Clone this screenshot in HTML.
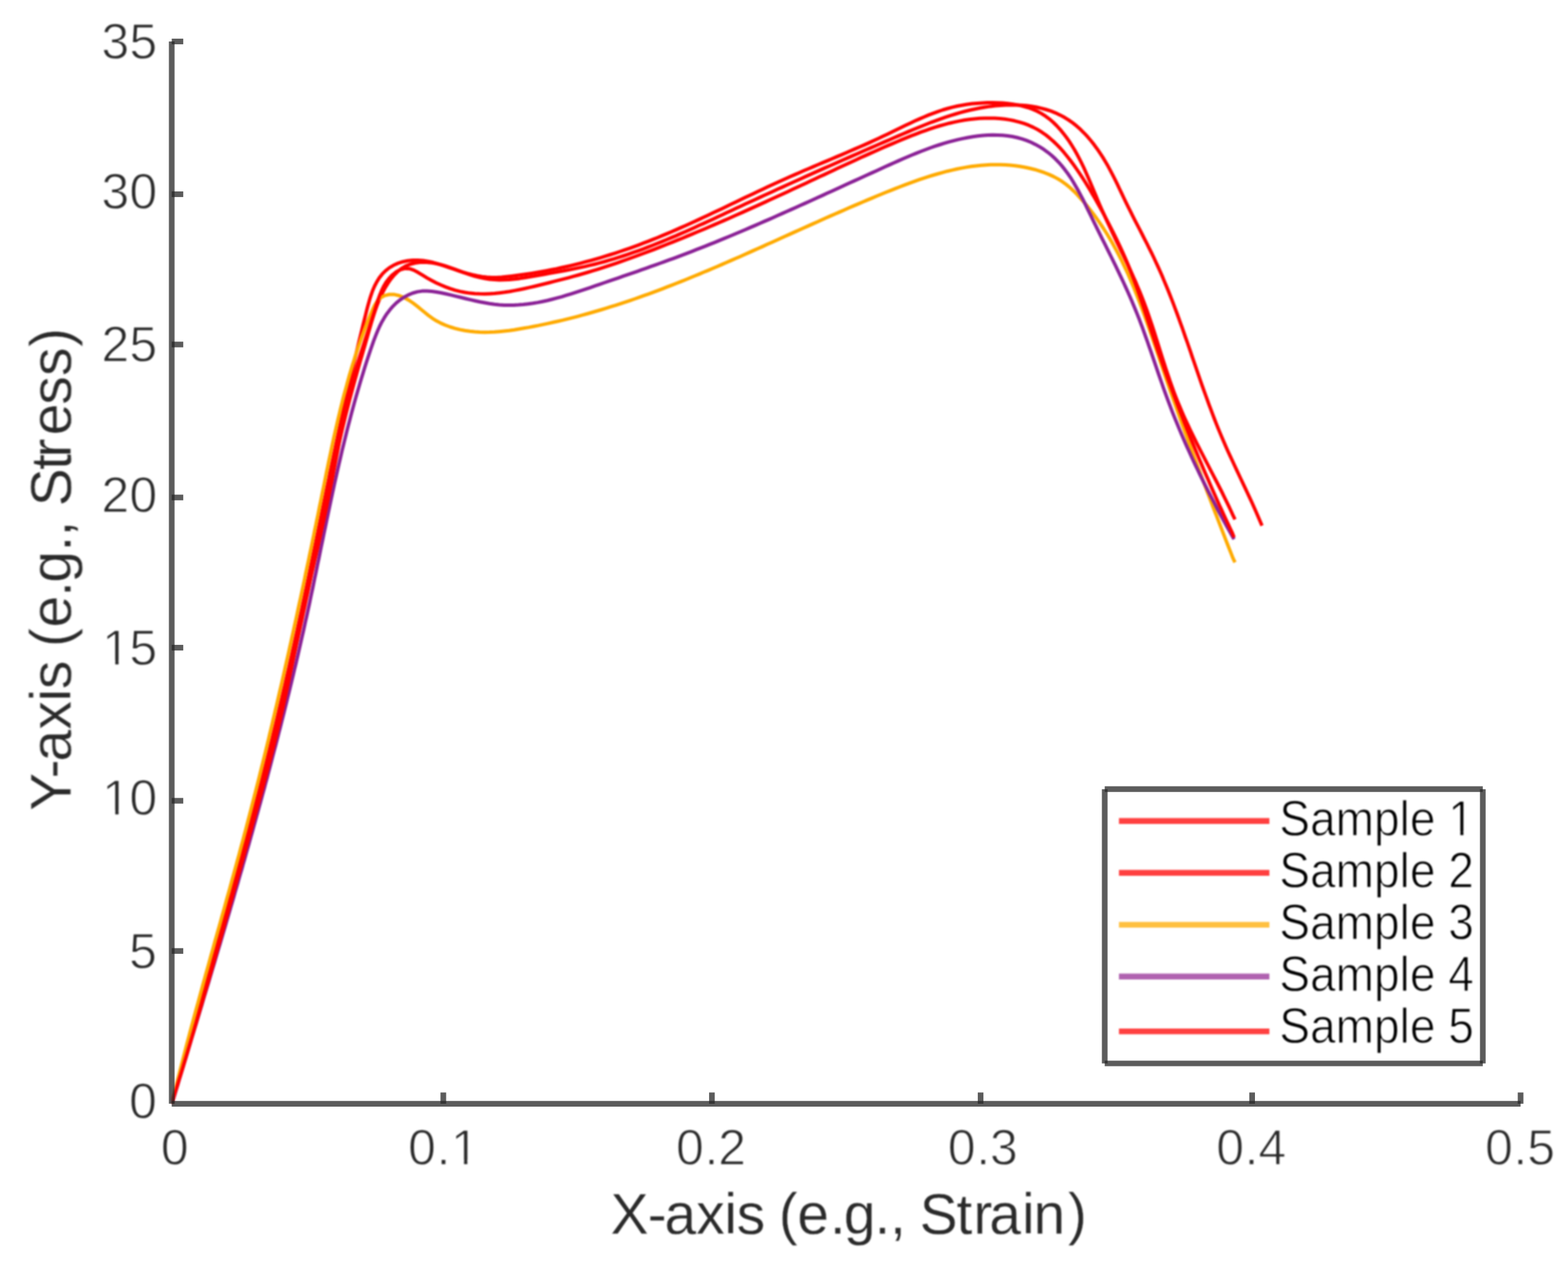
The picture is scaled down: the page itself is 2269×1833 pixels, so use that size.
<!DOCTYPE html>
<html lang="en"><head><meta charset="utf-8"><title>Stress-Strain Curves</title>
<style>
html,body{margin:0;padding:0;background:#fff;}
body{width:2269px;height:1833px;overflow:hidden;}
svg{display:block;}
.soft{filter:blur(0.9px);}
.soft2{filter:blur(0.45px);}
text{font-family:"Liberation Sans",sans-serif;}
text{stroke:#fff;stroke-width:1.4px;stroke-linejoin:round;}
.tk{font-size:72.4px;fill:#2a2a2a;}
.lb{font-size:82.5px;fill:#2a2a2a;stroke-width:0.4px;}
.lg{font-size:71.5px;fill:#000;}
</style></head><body>
<svg width="2269" height="1833" viewBox="0 0 2269 1833">
<rect width="2269" height="1833" fill="#fff"/>

<defs><clipPath id="plotclip"><rect x="248.5" y="60.0" width="1951.9" height="1536.8"/></clipPath></defs>
<g class="soft"><g fill="none" stroke-linejoin="round" stroke-linecap="butt" clip-path="url(#plotclip)">
<path d="M248.5,1596.8 L250.4,1589.8 L252.3,1582.7 L254.2,1575.7 L256.1,1568.6 L258.0,1561.5 L259.9,1554.5 L261.8,1547.4 L263.7,1540.4 L265.7,1533.3 L267.6,1526.3 L269.6,1519.2 L271.5,1512.2 L273.5,1505.2 L275.4,1498.1 L277.4,1491.1 L279.4,1484.1 L281.4,1477.1 L283.4,1470.1 L285.4,1463.1 L287.4,1456.1 L289.4,1449.1 L291.4,1442.1 L293.4,1435.0 L295.4,1428.0 L297.4,1421.0 L299.4,1414.1 L301.4,1407.1 L303.5,1400.1 L305.5,1393.1 L307.5,1386.1 L309.5,1379.1 L311.6,1372.1 L313.6,1365.1 L315.6,1358.1 L317.6,1351.1 L319.6,1344.1 L321.6,1337.1 L323.7,1330.1 L325.7,1323.1 L327.7,1316.1 L329.7,1309.1 L331.7,1302.1 L333.7,1295.1 L335.7,1288.1 L337.7,1281.1 L339.6,1274.1 L341.6,1267.1 L343.6,1260.1 L345.6,1253.0 L347.5,1246.0 L349.5,1239.0 L351.4,1232.0 L353.3,1224.9 L355.3,1217.9 L357.2,1210.9 L359.1,1203.8 L361.0,1196.8 L362.9,1189.7 L364.8,1182.7 L366.7,1175.6 L368.5,1168.5 L370.4,1161.5 L372.2,1154.4 L374.1,1147.3 L375.9,1140.2 L377.7,1133.1 L379.5,1126.1 L381.3,1119.0 L383.1,1111.9 L384.9,1104.8 L386.7,1097.7 L388.4,1090.6 L390.2,1083.5 L391.9,1076.4 L393.7,1069.3 L395.4,1062.2 L397.1,1055.0 L398.9,1047.9 L400.6,1040.8 L402.3,1033.7 L403.9,1026.6 L405.6,1019.5 L407.3,1012.3 L409.0,1005.2 L410.6,998.1 L412.3,991.0 L413.9,983.9 L415.5,976.7 L417.2,969.6 L418.8,962.5 L420.4,955.4 L422.0,948.3 L423.6,941.1 L425.2,934.0 L426.7,926.9 L428.3,919.8 L429.9,912.7 L431.4,905.5 L433.0,898.4 L434.5,891.3 L436.1,884.2 L437.6,877.1 L439.1,870.0 L440.6,862.9 L442.1,855.8 L443.6,848.7 L445.1,841.5 L446.6,834.4 L448.1,827.3 L449.5,820.2 L451.0,813.1 L452.5,806.0 L453.9,798.9 L455.4,791.8 L456.9,784.7 L458.3,777.6 L459.8,770.5 L461.2,763.4 L462.7,756.3 L464.2,749.2 L465.6,742.1 L467.1,735.0 L468.5,727.9 L470.0,720.8 L471.5,713.7 L472.9,706.6 L474.4,699.5 L475.9,692.4 L477.3,685.3 L478.8,678.2 L480.3,671.0 L481.8,663.9 L483.3,656.8 L484.8,649.7 L486.3,642.6 L487.8,635.4 L489.3,628.3 L490.8,621.2 L492.4,614.0 L493.9,606.9 L495.5,599.7 L497.0,592.6 L498.6,585.4 L500.2,578.3 L501.8,571.1 L503.4,564.0 L505.0,556.8 L506.6,549.6 L508.2,542.5 L509.9,535.3 L511.5,528.1 L513.2,520.9 L514.9,513.7 L516.6,506.5 L518.3,499.3 L520.0,492.1 L521.8,484.9 L523.5,477.7 L525.3,470.4 L527.1,463.2 L528.9,456.0 L530.7,448.7 L532.6,441.5 L534.6,434.3 L536.8,427.3 L539.2,420.5 L542.0,414.0 L545.2,407.8 L548.9,401.9 L553.1,396.6 L557.9,391.7 L563.4,387.4 L569.4,383.8 L575.9,380.9 L582.8,378.7 L589.9,377.3 L597.3,376.5 L604.7,376.5 L612.2,377.0 L619.6,378.2 L626.9,379.8 L634.1,381.9 L641.3,384.1 L648.4,386.6 L655.4,389.0 L662.5,391.4 L669.4,393.6 L676.4,395.6 L683.4,397.4 L690.4,399.0 L697.4,400.2 L704.4,401.0 L711.5,401.4 L718.7,401.4 L725.9,401.0 L733.1,400.3 L740.3,399.5 L747.5,398.6 L754.8,397.6 L762.0,396.6 L769.2,395.5 L776.4,394.3 L783.6,393.0 L790.7,391.7 L797.9,390.3 L805.1,388.9 L812.2,387.3 L819.4,385.7 L826.5,384.1 L833.6,382.4 L840.7,380.6 L847.8,378.7 L854.8,376.8 L861.9,374.8 L868.9,372.8 L875.9,370.7 L882.9,368.5 L889.9,366.3 L896.8,364.0 L903.7,361.7 L910.6,359.3 L917.5,356.8 L924.4,354.3 L931.2,351.7 L938.0,349.1 L944.8,346.4 L951.6,343.7 L958.3,340.9 L965.0,338.1 L971.8,335.3 L978.4,332.4 L985.1,329.4 L991.8,326.5 L998.4,323.5 L1005.0,320.4 L1011.7,317.4 L1018.3,314.3 L1024.9,311.2 L1031.5,308.1 L1038.0,305.0 L1044.6,301.9 L1051.2,298.7 L1057.8,295.6 L1064.3,292.4 L1070.9,289.3 L1077.5,286.1 L1084.1,283.0 L1090.6,279.9 L1097.2,276.8 L1103.8,273.7 L1110.4,270.6 L1117.0,267.5 L1123.6,264.5 L1130.2,261.5 L1136.9,258.5 L1143.5,255.5 L1150.2,252.6 L1156.9,249.7 L1163.5,246.8 L1170.2,244.0 L1176.9,241.1 L1183.6,238.3 L1190.4,235.4 L1197.1,232.6 L1203.8,229.8 L1210.5,226.9 L1217.2,224.1 L1223.9,221.2 L1230.6,218.3 L1237.3,215.4 L1244.0,212.5 L1250.7,209.6 L1257.4,206.6 L1264.1,203.5 L1270.7,200.5 L1277.4,197.3 L1284.0,194.2 L1290.6,191.0 L1297.2,187.7 L1303.9,184.5 L1310.5,181.3 L1317.1,178.2 L1323.8,175.1 L1330.4,172.1 L1337.1,169.2 L1343.8,166.4 L1350.6,163.8 L1357.4,161.3 L1364.3,159.0 L1371.2,157.0 L1378.2,155.1 L1385.2,153.5 L1392.3,152.2 L1399.4,151.0 L1406.6,150.1 L1413.9,149.4 L1421.2,148.9 L1428.5,148.6 L1435.9,148.5 L1443.3,148.7 L1450.8,149.1 L1458.2,149.8 L1465.6,150.7 L1472.9,151.9 L1480.1,153.5 L1487.1,155.5 L1494.0,157.9 L1500.5,160.8 L1506.8,164.1 L1512.8,167.9 L1518.6,172.2 L1524.0,176.9 L1529.1,181.9 L1534.0,187.2 L1538.6,192.8 L1543.0,198.5 L1547.2,204.4 L1551.1,210.5 L1554.9,216.7 L1558.4,223.0 L1561.8,229.4 L1565.1,235.9 L1568.3,242.5 L1571.3,249.2 L1574.3,255.9 L1577.2,262.7 L1580.1,269.5 L1582.9,276.3 L1585.8,283.1 L1588.6,289.9 L1591.5,296.7 L1594.5,303.4 L1597.5,310.1 L1600.5,316.8 L1603.6,323.4 L1606.7,330.0 L1609.8,336.6 L1612.9,343.2 L1616.1,349.8 L1619.3,356.3 L1622.4,362.9 L1625.6,369.4 L1628.7,376.0 L1631.8,382.5 L1634.8,389.1 L1637.9,395.7 L1640.8,402.3 L1643.8,408.9 L1646.6,415.6 L1649.4,422.3 L1652.1,429.0 L1654.8,435.8 L1657.3,442.6 L1659.8,449.4 L1662.2,456.3 L1664.6,463.2 L1666.9,470.1 L1669.2,477.1 L1671.4,484.1 L1673.6,491.0 L1675.8,498.0 L1678.0,505.0 L1680.2,512.0 L1682.4,519.0 L1684.7,526.0 L1686.9,532.9 L1689.2,539.9 L1691.6,546.8 L1693.9,553.7 L1696.4,560.6 L1698.9,567.5 L1701.5,574.3 L1704.2,581.1 L1707.0,587.8 L1709.8,594.5 L1712.7,601.2 L1715.7,607.8 L1718.8,614.4 L1721.9,621.0 L1725.1,627.6 L1728.3,634.1 L1731.5,640.6 L1734.8,647.1 L1738.1,653.6 L1741.5,660.1 L1744.8,666.6 L1748.2,673.1 L1751.5,679.6 L1754.9,686.1 L1758.2,692.5 L1761.6,699.0 L1764.9,705.5 L1768.2,712.0 L1771.4,718.6 L1774.6,725.1 L1777.8,731.7 L1780.9,738.3 L1783.9,744.9 L1787.1,751.5" stroke="#ff0000" stroke-width="5.0"/>
<path d="M248.5,1596.8 L250.4,1589.7 L252.5,1582.7 L254.5,1575.6 L256.6,1568.5 L258.6,1561.4 L260.7,1554.4 L262.8,1547.3 L264.8,1540.2 L266.9,1533.2 L268.9,1526.1 L271.0,1519.0 L273.0,1511.9 L275.1,1504.9 L277.1,1497.8 L279.2,1490.7 L281.2,1483.7 L283.3,1476.6 L285.4,1469.5 L287.4,1462.5 L289.5,1455.4 L291.5,1448.3 L293.6,1441.3 L295.6,1434.2 L297.7,1427.1 L299.7,1420.1 L301.7,1413.0 L303.8,1405.9 L305.8,1398.8 L307.9,1391.8 L309.9,1384.7 L311.9,1377.6 L314.0,1370.6 L316.0,1363.5 L318.0,1356.4 L320.0,1349.4 L322.1,1342.3 L324.1,1335.2 L326.1,1328.1 L328.1,1321.1 L330.1,1314.0 L332.1,1306.9 L334.1,1299.8 L336.1,1292.7 L338.1,1285.7 L340.1,1278.6 L342.1,1271.5 L344.0,1264.4 L346.0,1257.3 L348.0,1250.2 L349.9,1243.2 L351.9,1236.1 L353.8,1229.0 L355.8,1221.9 L357.7,1214.8 L359.7,1207.7 L361.6,1200.6 L363.5,1193.5 L365.4,1186.4 L367.4,1179.3 L369.3,1172.2 L371.2,1165.1 L373.1,1158.0 L375.0,1150.9 L376.8,1143.8 L378.7,1136.7 L380.6,1129.6 L382.4,1122.5 L384.3,1115.3 L386.1,1108.2 L388.0,1101.1 L389.8,1094.0 L391.6,1086.9 L393.5,1079.7 L395.3,1072.6 L397.1,1065.5 L398.8,1058.3 L400.6,1051.2 L402.4,1044.1 L404.2,1036.9 L405.9,1029.8 L407.7,1022.6 L409.4,1015.5 L411.2,1008.3 L412.9,1001.2 L414.6,994.0 L416.3,986.9 L418.0,979.7 L419.7,972.5 L421.3,965.4 L423.0,958.2 L424.6,951.0 L426.3,943.8 L427.9,936.7 L429.5,929.5 L431.2,922.3 L432.8,915.1 L434.3,907.9 L435.9,900.7 L437.5,893.5 L439.0,886.3 L440.6,879.1 L442.1,871.9 L443.6,864.7 L445.2,857.5 L446.7,850.2 L448.2,843.0 L449.6,835.8 L451.1,828.6 L452.6,821.4 L454.1,814.1 L455.6,806.9 L457.0,799.7 L458.5,792.4 L460.0,785.2 L461.4,778.0 L462.9,770.8 L464.4,763.5 L465.8,756.3 L467.3,749.1 L468.8,741.9 L470.3,734.7 L471.8,727.5 L473.3,720.3 L474.8,713.0 L476.3,705.8 L477.8,698.6 L479.4,691.5 L480.9,684.3 L482.5,677.1 L484.1,669.9 L485.6,662.7 L487.3,655.6 L488.9,648.4 L490.5,641.3 L492.2,634.1 L493.9,627.0 L495.6,619.8 L497.3,612.7 L499.0,605.6 L500.8,598.5 L502.6,591.4 L504.4,584.3 L506.2,577.2 L508.1,570.2 L510.0,563.1 L511.9,556.0 L513.8,549.0 L515.8,542.0 L517.8,534.9 L519.8,527.9 L521.8,520.9 L523.9,513.8 L525.9,506.7 L528.0,499.7 L530.0,492.6 L532.1,485.4 L534.1,478.3 L536.2,471.1 L538.3,463.9 L540.5,456.8 L542.8,449.7 L545.3,442.7 L548.0,435.7 L550.9,428.9 L554.1,422.3 L557.6,415.8 L561.5,409.6 L565.7,403.6 L570.4,397.9 L575.5,392.9 L581.1,388.4 L587.1,384.9 L593.6,382.2 L600.5,380.5 L607.6,379.5 L614.9,379.3 L622.3,379.9 L629.7,381.0 L637.0,382.6 L644.2,384.7 L651.4,387.1 L658.5,389.7 L665.6,392.4 L672.7,395.0 L679.8,397.4 L686.9,399.6 L694.0,401.4 L701.1,402.9 L708.3,404.0 L715.5,404.6 L722.7,404.9 L729.9,404.8 L737.2,404.4 L744.5,403.7 L751.8,402.9 L759.1,401.8 L766.4,400.6 L773.7,399.4 L781.0,398.1 L788.3,396.8 L795.6,395.4 L802.9,394.1 L810.2,392.8 L817.4,391.5 L824.7,390.1 L831.9,388.6 L839.1,387.1 L846.3,385.6 L853.4,383.9 L860.6,382.2 L867.7,380.4 L874.7,378.5 L881.8,376.4 L888.8,374.4 L895.8,372.2 L902.7,370.0 L909.7,367.6 L916.6,365.2 L923.5,362.8 L930.4,360.3 L937.2,357.7 L944.1,355.0 L950.9,352.3 L957.7,349.6 L964.5,346.8 L971.3,343.9 L978.1,341.1 L984.8,338.1 L991.6,335.2 L998.3,332.2 L1005.0,329.2 L1011.7,326.1 L1018.5,323.1 L1025.2,320.0 L1031.9,316.9 L1038.6,313.8 L1045.2,310.7 L1051.9,307.6 L1058.6,304.5 L1065.3,301.3 L1072.0,298.2 L1078.7,295.1 L1085.4,292.0 L1092.1,288.9 L1098.8,285.9 L1105.5,282.8 L1112.2,279.7 L1118.9,276.7 L1125.6,273.6 L1132.3,270.6 L1139.0,267.5 L1145.7,264.5 L1152.4,261.5 L1159.1,258.4 L1165.8,255.4 L1172.6,252.4 L1179.3,249.4 L1186.0,246.4 L1192.7,243.4 L1199.4,240.5 L1206.2,237.5 L1212.9,234.5 L1219.6,231.5 L1226.3,228.6 L1233.1,225.6 L1239.8,222.7 L1246.5,219.7 L1253.3,216.8 L1260.0,213.9 L1266.7,211.0 L1273.5,208.0 L1280.2,205.1 L1287.0,202.2 L1293.7,199.3 L1300.4,196.4 L1307.2,193.5 L1313.9,190.6 L1320.7,187.8 L1327.5,185.0 L1334.3,182.2 L1341.1,179.5 L1347.9,176.8 L1354.8,174.3 L1361.6,171.8 L1368.6,169.4 L1375.5,167.1 L1382.5,165.0 L1389.6,162.9 L1396.6,161.0 L1403.8,159.3 L1411.0,157.7 L1418.2,156.3 L1425.5,155.0 L1432.9,153.9 L1440.3,153.1 L1447.8,152.4 L1455.3,152.0 L1462.8,151.8 L1470.3,151.9 L1477.7,152.2 L1485.1,152.8 L1492.4,153.8 L1499.7,155.0 L1506.8,156.6 L1513.8,158.5 L1520.7,160.7 L1527.4,163.3 L1533.9,166.4 L1540.3,169.8 L1546.4,173.6 L1552.3,177.8 L1558.0,182.3 L1563.5,187.2 L1568.7,192.4 L1573.8,197.8 L1578.6,203.5 L1583.3,209.4 L1587.7,215.4 L1591.9,221.6 L1596.0,227.9 L1599.8,234.2 L1603.5,240.6 L1607.0,247.1 L1610.4,253.6 L1613.7,260.1 L1616.9,266.7 L1620.0,273.3 L1623.2,279.9 L1626.3,286.5 L1629.5,293.1 L1632.7,299.6 L1636.0,306.2 L1639.3,312.8 L1642.6,319.3 L1646.0,325.9 L1649.4,332.4 L1652.8,339.0 L1656.1,345.6 L1659.5,352.2 L1662.8,358.8 L1666.1,365.4 L1669.3,372.0 L1672.4,378.7 L1675.5,385.4 L1678.5,392.1 L1681.5,398.8 L1684.3,405.6 L1687.2,412.4 L1690.0,419.2 L1692.7,426.0 L1695.4,432.8 L1698.0,439.7 L1700.6,446.6 L1703.2,453.5 L1705.7,460.4 L1708.2,467.3 L1710.7,474.2 L1713.1,481.1 L1715.5,488.1 L1718.0,495.0 L1720.4,502.0 L1722.8,508.9 L1725.1,515.9 L1727.5,522.8 L1729.9,529.8 L1732.3,536.8 L1734.7,543.7 L1737.1,550.7 L1739.5,557.6 L1742.0,564.6 L1744.5,571.5 L1747.0,578.4 L1749.5,585.3 L1752.1,592.2 L1754.7,599.1 L1757.3,606.0 L1760.0,612.8 L1762.7,619.6 L1765.5,626.4 L1768.4,633.2 L1771.3,640.0 L1774.2,646.7 L1777.2,653.4 L1780.3,660.1 L1783.4,666.8 L1786.5,673.5 L1789.6,680.1 L1792.7,686.8 L1795.9,693.5 L1799.0,700.1 L1802.2,706.8 L1805.3,713.5 L1808.4,720.1 L1811.5,726.8 L1814.5,733.5 L1817.5,740.2 L1820.4,747.0 L1823.3,753.7 L1826.2,760.5" stroke="#ff0000" stroke-width="5.0"/>
<path d="M248.5,1596.8 L250.3,1589.8 L252.0,1582.9 L253.7,1575.9 L255.5,1568.9 L257.2,1561.9 L259.0,1555.0 L260.7,1548.0 L262.5,1541.0 L264.3,1534.1 L266.1,1527.1 L267.9,1520.2 L269.7,1513.2 L271.5,1506.3 L273.4,1499.3 L275.2,1492.4 L277.1,1485.4 L279.0,1478.5 L280.8,1471.6 L282.7,1464.6 L284.6,1457.7 L286.5,1450.8 L288.4,1443.8 L290.3,1436.9 L292.2,1430.0 L294.1,1423.0 L296.0,1416.1 L297.9,1409.2 L299.9,1402.3 L301.8,1395.3 L303.7,1388.4 L305.6,1381.5 L307.6,1374.6 L309.5,1367.7 L311.4,1360.7 L313.4,1353.8 L315.3,1346.9 L317.3,1340.0 L319.2,1333.1 L321.1,1326.1 L323.1,1319.2 L325.0,1312.3 L326.9,1305.4 L328.8,1298.4 L330.8,1291.5 L332.7,1284.6 L334.6,1277.7 L336.5,1270.7 L338.4,1263.8 L340.3,1256.9 L342.2,1249.9 L344.1,1243.0 L346.0,1236.1 L347.8,1229.1 L349.7,1222.2 L351.6,1215.3 L353.4,1208.3 L355.3,1201.4 L357.1,1194.4 L358.9,1187.5 L360.7,1180.5 L362.5,1173.6 L364.3,1166.6 L366.1,1159.7 L367.9,1152.7 L369.7,1145.7 L371.4,1138.8 L373.2,1131.8 L375.0,1124.8 L376.7,1117.9 L378.4,1110.9 L380.2,1103.9 L381.9,1096.9 L383.6,1090.0 L385.3,1083.0 L387.0,1076.0 L388.7,1069.0 L390.3,1062.0 L392.0,1055.0 L393.7,1048.1 L395.3,1041.1 L397.0,1034.1 L398.6,1027.1 L400.3,1020.1 L401.9,1013.1 L403.5,1006.1 L405.1,999.1 L406.8,992.1 L408.4,985.1 L410.0,978.1 L411.6,971.1 L413.1,964.1 L414.7,957.0 L416.3,950.0 L417.9,943.0 L419.4,936.0 L421.0,929.0 L422.5,922.0 L424.1,915.0 L425.6,907.9 L427.2,900.9 L428.7,893.9 L430.2,886.9 L431.7,879.8 L433.2,872.8 L434.8,865.8 L436.3,858.8 L437.8,851.7 L439.3,844.7 L440.8,837.7 L442.2,830.6 L443.7,823.6 L445.2,816.6 L446.7,809.5 L448.1,802.5 L449.6,795.5 L451.1,788.4 L452.5,781.4 L454.0,774.4 L455.4,767.3 L456.9,760.3 L458.3,753.2 L459.8,746.2 L461.2,739.2 L462.6,732.1 L464.1,725.1 L465.5,718.0 L466.9,711.0 L468.4,703.9 L469.8,696.9 L471.2,689.9 L472.6,682.8 L474.1,675.8 L475.5,668.7 L477.0,661.7 L478.5,654.7 L480.0,647.6 L481.5,640.6 L483.0,633.6 L484.6,626.6 L486.2,619.6 L487.8,612.6 L489.4,605.6 L491.1,598.6 L492.7,591.6 L494.5,584.7 L496.2,577.7 L498.0,570.7 L499.9,563.8 L501.8,556.9 L503.7,549.9 L505.6,543.0 L507.7,536.1 L509.7,529.3 L511.9,522.4 L514.0,515.5 L516.3,508.7 L518.5,501.8 L520.9,495.0 L523.3,488.2 L525.8,481.4 L528.3,474.7 L530.9,467.9 L533.6,461.2 L536.4,454.4 L539.2,447.8 L542.3,441.3 L546.0,435.6 L550.7,430.9 L556.5,427.6 L563.4,426.0 L570.7,426.1 L577.8,427.7 L584.8,430.5 L591.5,434.2 L597.8,438.5 L603.7,443.0 L609.3,447.6 L614.8,452.1 L620.2,456.5 L625.8,460.6 L631.8,464.3 L638.1,467.6 L644.7,470.5 L651.5,473.0 L658.5,475.1 L665.6,476.9 L672.8,478.3 L679.9,479.3 L687.0,480.1 L694.2,480.5 L701.3,480.7 L708.4,480.6 L715.5,480.3 L722.6,479.7 L729.7,479.0 L736.8,478.2 L743.9,477.2 L751.0,476.0 L758.1,474.8 L765.1,473.6 L772.2,472.2 L779.3,470.9 L786.4,469.4 L793.5,467.9 L800.5,466.3 L807.6,464.7 L814.6,463.1 L821.6,461.3 L828.7,459.6 L835.7,457.8 L842.7,455.9 L849.6,454.0 L856.6,452.0 L863.5,450.0 L870.4,448.0 L877.3,445.9 L884.2,443.7 L891.0,441.6 L897.9,439.3 L904.7,437.1 L911.5,434.8 L918.3,432.5 L925.0,430.1 L931.8,427.7 L938.5,425.3 L945.2,422.8 L951.9,420.3 L958.6,417.8 L965.3,415.2 L972.0,412.6 L978.6,410.0 L985.3,407.4 L991.9,404.7 L998.5,402.0 L1005.1,399.3 L1011.7,396.6 L1018.3,393.8 L1024.9,391.1 L1031.5,388.3 L1038.1,385.5 L1044.6,382.6 L1051.2,379.8 L1057.8,376.9 L1064.3,374.0 L1070.9,371.2 L1077.4,368.3 L1083.9,365.4 L1090.5,362.4 L1097.0,359.5 L1103.6,356.6 L1110.1,353.6 L1116.6,350.7 L1123.2,347.7 L1129.7,344.8 L1136.3,341.8 L1142.8,338.9 L1149.4,335.9 L1155.9,333.0 L1162.5,330.0 L1169.0,327.1 L1175.6,324.1 L1182.2,321.2 L1188.7,318.2 L1195.3,315.3 L1201.9,312.4 L1208.5,309.5 L1215.2,306.6 L1221.8,303.7 L1228.4,300.8 L1235.1,297.9 L1241.7,295.1 L1248.4,292.2 L1255.1,289.4 L1261.8,286.6 L1268.5,283.8 L1275.2,281.0 L1281.9,278.3 L1288.7,275.6 L1295.5,272.9 L1302.2,270.2 L1309.0,267.6 L1315.8,265.1 L1322.7,262.6 L1329.5,260.2 L1336.4,257.9 L1343.2,255.7 L1350.1,253.5 L1357.0,251.5 L1363.9,249.6 L1370.8,247.7 L1377.8,246.1 L1384.7,244.5 L1391.7,243.1 L1398.6,241.9 L1405.6,240.8 L1412.6,239.9 L1419.6,239.2 L1426.6,238.7 L1433.6,238.3 L1440.7,238.2 L1447.7,238.2 L1454.8,238.5 L1461.8,239.0 L1468.9,239.7 L1476.0,240.7 L1483.0,242.0 L1490.1,243.5 L1497.2,245.2 L1504.2,247.3 L1511.1,249.7 L1517.9,252.4 L1524.5,255.4 L1531.0,258.9 L1537.1,262.7 L1543.0,267.0 L1548.6,271.6 L1553.9,276.6 L1559.0,281.8 L1563.9,287.2 L1568.7,292.7 L1573.3,298.2 L1577.8,303.8 L1582.2,309.5 L1586.4,315.3 L1590.5,321.1 L1594.5,327.0 L1598.4,333.0 L1602.2,339.0 L1605.9,345.1 L1609.5,351.3 L1612.9,357.5 L1616.3,363.8 L1619.6,370.1 L1622.8,376.4 L1625.9,382.8 L1629.0,389.3 L1632.0,395.8 L1634.9,402.4 L1637.7,408.9 L1640.5,415.5 L1643.2,422.2 L1645.8,428.9 L1648.4,435.6 L1651.0,442.3 L1653.5,449.1 L1656.0,455.8 L1658.4,462.6 L1660.8,469.4 L1663.2,476.2 L1665.6,483.1 L1667.9,489.9 L1670.2,496.8 L1672.6,503.6 L1674.9,510.5 L1677.2,517.3 L1679.5,524.2 L1681.8,531.0 L1684.1,537.8 L1686.4,544.7 L1688.7,551.5 L1691.1,558.3 L1693.4,565.1 L1695.8,571.9 L1698.2,578.7 L1700.6,585.4 L1703.0,592.2 L1705.4,599.0 L1707.8,605.7 L1710.2,612.5 L1712.7,619.2 L1715.1,625.9 L1717.6,632.7 L1720.0,639.4 L1722.5,646.1 L1725.0,652.9 L1727.5,659.6 L1730.0,666.3 L1732.5,673.0 L1735.0,679.7 L1737.5,686.4 L1740.0,693.1 L1742.6,699.8 L1745.1,706.5 L1747.6,713.2 L1750.2,719.9 L1752.8,726.6 L1755.3,733.3 L1757.9,740.0 L1760.5,746.7 L1763.1,753.4 L1765.7,760.1 L1768.3,766.8 L1770.9,773.6 L1773.5,780.3 L1776.1,787.0 L1778.7,793.7 L1781.4,800.4 L1784.0,807.2 L1787.1,813.6" stroke="#ffaa00" stroke-width="5.0"/>
<path d="M248.5,1596.8 L250.9,1590.0 L253.0,1583.2 L255.0,1576.4 L257.1,1569.7 L259.1,1562.9 L261.2,1556.1 L263.2,1549.4 L265.3,1542.6 L267.3,1535.8 L269.4,1529.1 L271.4,1522.3 L273.4,1515.5 L275.5,1508.7 L277.5,1501.9 L279.6,1495.1 L281.6,1488.4 L283.7,1481.6 L285.7,1474.8 L287.8,1468.0 L289.8,1461.2 L291.9,1454.4 L293.9,1447.6 L295.9,1440.8 L298.0,1434.0 L300.0,1427.2 L302.1,1420.4 L304.1,1413.6 L306.1,1406.8 L308.1,1400.0 L310.2,1393.2 L312.2,1386.4 L314.2,1379.6 L316.2,1372.8 L318.3,1366.0 L320.3,1359.1 L322.3,1352.3 L324.3,1345.5 L326.3,1338.7 L328.3,1331.9 L330.3,1325.0 L332.3,1318.2 L334.3,1311.4 L336.3,1304.6 L338.3,1297.7 L340.2,1290.9 L342.2,1284.1 L344.2,1277.2 L346.1,1270.4 L348.1,1263.6 L350.1,1256.7 L352.0,1249.9 L354.0,1243.1 L355.9,1236.2 L357.8,1229.4 L359.8,1222.5 L361.7,1215.7 L363.6,1208.8 L365.5,1202.0 L367.4,1195.1 L369.3,1188.3 L371.2,1181.4 L373.1,1174.6 L375.0,1167.7 L376.9,1160.9 L378.7,1154.0 L380.6,1147.2 L382.5,1140.3 L384.3,1133.4 L386.2,1126.6 L388.0,1119.7 L389.8,1112.8 L391.6,1106.0 L393.4,1099.1 L395.2,1092.2 L397.0,1085.4 L398.8,1078.5 L400.6,1071.6 L402.4,1064.7 L404.1,1057.9 L405.9,1051.0 L407.6,1044.1 L409.4,1037.2 L411.1,1030.3 L412.8,1023.4 L414.5,1016.6 L416.2,1009.7 L417.9,1002.8 L419.6,995.9 L421.3,989.0 L422.9,982.1 L424.6,975.2 L426.2,968.3 L427.9,961.4 L429.5,954.5 L431.1,947.6 L432.7,940.7 L434.3,933.8 L435.8,926.9 L437.4,920.0 L439.0,913.1 L440.5,906.2 L442.0,899.3 L443.6,892.4 L445.1,885.5 L446.6,878.6 L448.1,871.7 L449.5,864.8 L451.0,857.8 L452.5,850.9 L453.9,844.0 L455.3,837.1 L456.8,830.2 L458.2,823.3 L459.6,816.3 L461.1,809.4 L462.5,802.5 L463.9,795.6 L465.3,788.7 L466.8,781.7 L468.2,774.8 L469.6,767.9 L471.1,761.0 L472.5,754.1 L474.0,747.1 L475.4,740.2 L476.9,733.3 L478.3,726.4 L479.8,719.5 L481.3,712.5 L482.8,705.6 L484.3,698.7 L485.9,691.8 L487.4,684.9 L489.0,677.9 L490.6,671.0 L492.2,664.1 L493.8,657.2 L495.4,650.3 L497.1,643.4 L498.8,636.5 L500.5,629.6 L502.2,622.7 L504.0,615.7 L505.8,608.8 L507.6,601.9 L509.4,595.0 L511.3,588.1 L513.2,581.2 L515.1,574.3 L517.1,567.5 L519.1,560.6 L521.1,553.7 L523.2,546.8 L525.3,539.9 L527.4,533.0 L529.6,526.1 L531.8,519.3 L534.1,512.4 L536.4,505.5 L538.8,498.7 L541.2,491.8 L543.8,485.1 L546.5,478.5 L549.4,472.0 L552.6,465.7 L556.1,459.7 L559.8,453.9 L564.0,448.4 L568.5,443.2 L573.5,438.3 L578.9,433.9 L584.7,430.0 L590.9,426.6 L597.3,424.0 L604.0,422.1 L610.8,421.1 L617.7,421.0 L624.7,421.5 L631.7,422.5 L638.8,423.8 L645.8,425.3 L652.8,426.9 L659.8,428.6 L666.8,430.3 L673.8,432.0 L680.7,433.6 L687.7,435.2 L694.7,436.7 L701.6,438.0 L708.5,439.2 L715.5,440.2 L722.4,440.9 L729.4,441.4 L736.4,441.5 L743.3,441.5 L750.3,441.1 L757.2,440.5 L764.2,439.7 L771.2,438.8 L778.1,437.6 L785.1,436.2 L792.0,434.7 L798.9,433.0 L805.9,431.2 L812.8,429.3 L819.7,427.2 L826.6,425.1 L833.5,422.9 L840.4,420.7 L847.2,418.4 L854.1,416.1 L860.9,413.7 L867.7,411.4 L874.5,409.0 L881.3,406.7 L888.0,404.4 L894.8,402.1 L901.5,399.7 L908.2,397.4 L914.9,395.1 L921.6,392.8 L928.2,390.4 L934.9,388.1 L941.5,385.7 L948.2,383.4 L954.8,381.0 L961.4,378.6 L968.0,376.2 L974.6,373.8 L981.2,371.3 L987.8,368.8 L994.4,366.3 L1001.0,363.8 L1007.6,361.2 L1014.2,358.7 L1020.7,356.1 L1027.3,353.4 L1033.9,350.8 L1040.4,348.1 L1047.0,345.4 L1053.5,342.7 L1060.1,340.0 L1066.6,337.3 L1073.2,334.5 L1079.7,331.7 L1086.2,328.9 L1092.8,326.1 L1099.3,323.3 L1105.8,320.4 L1112.4,317.6 L1118.9,314.7 L1125.4,311.8 L1131.9,308.9 L1138.4,306.0 L1144.9,303.1 L1151.4,300.2 L1157.9,297.3 L1164.4,294.4 L1170.9,291.4 L1177.4,288.5 L1183.9,285.5 L1190.4,282.6 L1196.9,279.6 L1203.3,276.7 L1209.8,273.7 L1216.3,270.8 L1222.7,267.8 L1229.2,264.8 L1235.7,261.9 L1242.1,258.9 L1248.6,256.0 L1255.1,253.0 L1261.5,250.1 L1268.0,247.2 L1274.4,244.2 L1280.8,241.3 L1287.3,238.4 L1293.7,235.5 L1300.2,232.6 L1306.6,229.8 L1313.1,227.0 L1319.6,224.3 L1326.1,221.6 L1332.7,219.0 L1339.3,216.5 L1345.9,214.0 L1352.6,211.7 L1359.3,209.5 L1366.0,207.4 L1372.8,205.4 L1379.7,203.6 L1386.6,201.9 L1393.6,200.4 L1400.7,199.0 L1407.8,197.8 L1414.9,196.8 L1422.1,196.1 L1429.3,195.6 L1436.5,195.3 L1443.6,195.4 L1450.8,195.8 L1457.8,196.5 L1464.8,197.5 L1471.7,199.0 L1478.6,200.8 L1485.3,203.1 L1491.8,205.8 L1498.2,208.9 L1504.5,212.4 L1510.5,216.2 L1516.3,220.4 L1521.8,224.9 L1527.0,229.7 L1531.9,234.7 L1536.5,239.9 L1540.9,245.4 L1545.1,251.0 L1549.1,256.8 L1552.8,262.8 L1556.4,268.9 L1559.9,275.1 L1563.3,281.4 L1566.6,287.7 L1569.8,294.2 L1572.9,300.6 L1576.1,307.1 L1579.2,313.5 L1582.3,320.0 L1585.5,326.4 L1588.7,332.8 L1591.8,339.2 L1595.0,345.6 L1598.2,351.9 L1601.4,358.3 L1604.5,364.6 L1607.7,371.0 L1610.8,377.3 L1613.9,383.7 L1617.0,390.1 L1620.0,396.4 L1623.1,402.8 L1626.1,409.2 L1629.0,415.6 L1631.9,422.1 L1634.8,428.5 L1637.6,435.0 L1640.3,441.5 L1643.0,448.0 L1645.7,454.6 L1648.3,461.2 L1650.8,467.8 L1653.3,474.4 L1655.7,481.1 L1658.1,487.8 L1660.5,494.5 L1662.8,501.2 L1665.2,507.9 L1667.5,514.6 L1669.8,521.4 L1672.1,528.1 L1674.4,534.9 L1676.7,541.6 L1679.0,548.3 L1681.4,555.0 L1683.7,561.7 L1686.1,568.4 L1688.6,575.1 L1691.1,581.8 L1693.6,588.4 L1696.1,595.1 L1698.7,601.7 L1701.4,608.2 L1704.1,614.8 L1706.8,621.4 L1709.6,627.9 L1712.4,634.4 L1715.2,640.9 L1718.1,647.4 L1721.0,653.8 L1723.9,660.3 L1726.9,666.7 L1729.9,673.1 L1733.0,679.5 L1736.0,685.9 L1739.2,692.3 L1742.3,698.6 L1745.5,705.0 L1748.7,711.3 L1751.9,717.6 L1755.2,723.9 L1758.5,730.2 L1761.8,736.5 L1765.1,742.8 L1768.5,749.0 L1771.9,755.2 L1775.3,761.5 L1778.8,767.7 L1782.3,773.9 L1785.7,780.1" stroke="#8a2196" stroke-width="5.0"/>
<path d="M248.5,1596.8 L250.7,1589.9 L252.8,1582.9 L255.0,1576.0 L257.1,1569.0 L259.2,1562.1 L261.4,1555.1 L263.5,1548.2 L265.6,1541.2 L267.7,1534.2 L269.8,1527.3 L271.9,1520.3 L274.0,1513.3 L276.0,1506.4 L278.1,1499.4 L280.2,1492.4 L282.2,1485.5 L284.3,1478.5 L286.3,1471.5 L288.4,1464.5 L290.4,1457.6 L292.5,1450.6 L294.5,1443.6 L296.5,1436.6 L298.6,1429.6 L300.6,1422.7 L302.6,1415.7 L304.6,1408.7 L306.6,1401.7 L308.6,1394.7 L310.6,1387.7 L312.6,1380.7 L314.6,1373.7 L316.6,1366.8 L318.6,1359.8 L320.6,1352.8 L322.6,1345.8 L324.5,1338.8 L326.5,1331.8 L328.5,1324.8 L330.5,1317.8 L332.4,1310.8 L334.4,1303.8 L336.4,1296.8 L338.3,1289.8 L340.3,1282.8 L342.3,1275.8 L344.2,1268.8 L346.2,1261.8 L348.1,1254.8 L350.1,1247.8 L352.0,1240.8 L354.0,1233.8 L356.0,1226.8 L357.9,1219.8 L359.9,1212.8 L361.8,1205.8 L363.8,1198.7 L365.7,1191.7 L367.7,1184.7 L369.6,1177.7 L371.6,1170.7 L373.5,1163.7 L375.4,1156.7 L377.4,1149.7 L379.3,1142.7 L381.2,1135.7 L383.1,1128.7 L385.0,1121.6 L386.9,1114.6 L388.7,1107.6 L390.6,1100.6 L392.4,1093.5 L394.2,1086.5 L396.0,1079.4 L397.8,1072.4 L399.5,1065.3 L401.3,1058.3 L403.0,1051.2 L404.7,1044.1 L406.3,1037.1 L408.0,1030.0 L409.6,1022.9 L411.2,1015.8 L412.7,1008.7 L414.3,1001.6 L415.8,994.5 L417.3,987.3 L418.8,980.2 L420.3,973.1 L421.8,966.0 L423.3,958.9 L424.8,951.7 L426.3,944.6 L427.8,937.5 L429.2,930.4 L430.7,923.3 L432.2,916.1 L433.7,909.0 L435.2,901.9 L436.7,894.8 L438.2,887.7 L439.7,880.6 L441.3,873.5 L442.8,866.4 L444.4,859.3 L446.0,852.3 L447.6,845.2 L449.2,838.1 L450.8,831.0 L452.4,824.0 L454.0,816.9 L455.6,809.8 L457.3,802.7 L458.9,795.7 L460.5,788.6 L462.1,781.5 L463.7,774.4 L465.2,767.3 L466.8,760.2 L468.4,753.1 L469.9,746.0 L471.4,738.9 L472.9,731.7 L474.4,724.6 L475.9,717.4 L477.3,710.3 L478.7,703.1 L480.2,695.9 L481.6,688.8 L482.9,681.6 L484.3,674.4 L485.7,667.2 L487.1,660.0 L488.5,652.8 L489.8,645.7 L491.2,638.5 L492.7,631.3 L494.1,624.2 L495.5,617.0 L497.0,609.9 L498.5,602.7 L500.0,595.6 L501.6,588.5 L503.2,581.5 L504.8,574.4 L506.5,567.4 L508.2,560.4 L510.0,553.4 L511.8,546.4 L513.7,539.5 L515.6,532.6 L517.6,525.7 L519.7,518.9 L521.8,512.1 L524.0,505.2 L526.2,498.4 L528.4,491.6 L530.7,484.8 L533.0,477.9 L535.2,471.0 L537.5,463.9 L539.8,456.9 L542.0,449.7 L544.2,442.4 L546.5,435.2 L549.1,428.0 L551.9,421.1 L555.0,414.5 L558.7,408.3 L563.0,402.7 L567.9,397.6 L573.5,393.2 L579.7,390.0 L586.1,388.4 L592.5,388.7 L598.9,390.9 L605.2,394.3 L611.6,398.2 L618.0,402.1 L624.6,405.8 L631.2,409.2 L638.0,412.3 L644.8,415.1 L651.7,417.6 L658.7,419.8 L665.7,421.6 L672.7,423.0 L679.8,424.1 L687.0,424.8 L694.1,425.1 L701.3,425.2 L708.5,424.9 L715.7,424.5 L723.0,423.7 L730.2,422.8 L737.4,421.7 L744.6,420.4 L751.9,419.0 L759.1,417.5 L766.2,415.9 L773.4,414.2 L780.5,412.5 L787.6,410.8 L794.7,409.0 L801.7,407.2 L808.7,405.4 L815.7,403.6 L822.7,401.8 L829.6,399.9 L836.6,398.0 L843.5,396.0 L850.4,394.0 L857.3,391.9 L864.2,389.8 L871.1,387.6 L878.0,385.4 L884.9,383.1 L891.8,380.8 L898.7,378.4 L905.5,376.0 L912.4,373.5 L919.3,371.0 L926.1,368.5 L932.9,366.0 L939.8,363.4 L946.6,360.8 L953.4,358.2 L960.1,355.5 L966.9,352.8 L973.7,350.1 L980.4,347.4 L987.2,344.7 L993.9,341.9 L1000.6,339.1 L1007.3,336.3 L1014.0,333.5 L1020.7,330.7 L1027.4,327.8 L1034.1,324.9 L1040.8,322.0 L1047.4,319.1 L1054.1,316.2 L1060.7,313.3 L1067.4,310.3 L1074.0,307.4 L1080.6,304.4 L1087.2,301.4 L1093.9,298.4 L1100.5,295.4 L1107.1,292.4 L1113.7,289.3 L1120.3,286.3 L1126.9,283.3 L1133.5,280.2 L1140.1,277.2 L1146.7,274.1 L1153.3,271.0 L1159.8,268.0 L1166.4,264.9 L1173.0,261.8 L1179.6,258.7 L1186.2,255.6 L1192.8,252.6 L1199.4,249.5 L1205.9,246.4 L1212.5,243.3 L1219.1,240.3 L1225.7,237.2 L1232.3,234.2 L1238.9,231.2 L1245.5,228.1 L1252.1,225.1 L1258.8,222.1 L1265.4,219.2 L1272.0,216.2 L1278.7,213.3 L1285.4,210.4 L1292.0,207.6 L1298.7,204.7 L1305.4,201.9 L1312.2,199.1 L1318.9,196.4 L1325.7,193.8 L1332.5,191.2 L1339.3,188.8 L1346.1,186.4 L1353.0,184.1 L1360.0,182.0 L1366.9,180.1 L1374.0,178.2 L1381.0,176.6 L1388.2,175.1 L1395.4,173.8 L1402.6,172.8 L1409.9,171.9 L1417.3,171.3 L1424.6,171.0 L1432.0,170.9 L1439.3,171.0 L1446.6,171.5 L1453.9,172.3 L1461.1,173.4 L1468.1,174.8 L1475.1,176.6 L1481.9,178.7 L1488.6,181.2 L1495.1,184.1 L1501.4,187.4 L1507.5,191.2 L1513.4,195.3 L1519.0,199.8 L1524.5,204.6 L1529.8,209.8 L1534.9,215.1 L1539.8,220.7 L1544.5,226.5 L1549.1,232.4 L1553.5,238.3 L1557.8,244.4 L1561.9,250.4 L1565.9,256.4 L1569.8,262.5 L1573.6,268.6 L1577.3,274.7 L1580.9,280.9 L1584.5,287.0 L1588.0,293.3 L1591.5,299.5 L1595.0,305.8 L1598.4,312.2 L1601.8,318.6 L1605.2,325.1 L1608.5,331.6 L1611.8,338.1 L1615.0,344.6 L1618.2,351.3 L1621.3,357.9 L1624.4,364.6 L1627.4,371.2 L1630.3,378.0 L1633.1,384.7 L1635.8,391.5 L1638.4,398.3 L1641.0,405.1 L1643.5,411.9 L1646.0,418.7 L1648.4,425.6 L1650.7,432.5 L1653.1,439.3 L1655.4,446.2 L1657.6,453.1 L1659.9,460.0 L1662.2,466.9 L1664.4,473.8 L1666.7,480.7 L1669.0,487.5 L1671.3,494.4 L1673.6,501.3 L1675.9,508.2 L1678.3,515.0 L1680.7,521.9 L1683.1,528.7 L1685.5,535.6 L1688.0,542.4 L1690.5,549.3 L1693.0,556.1 L1695.5,562.9 L1698.0,569.7 L1700.6,576.5 L1703.1,583.3 L1705.7,590.1 L1708.3,596.9 L1711.0,603.7 L1713.6,610.5 L1716.3,617.2 L1719.0,624.0 L1721.7,630.7 L1724.4,637.5 L1727.2,644.2 L1729.9,650.9 L1732.7,657.6 L1735.5,664.4 L1738.4,671.1 L1741.2,677.8 L1744.1,684.4 L1747.0,691.1 L1749.9,697.8 L1752.8,704.4 L1755.7,711.1 L1758.7,717.7 L1761.7,724.4 L1764.6,731.0 L1767.7,737.6 L1770.7,744.2 L1773.7,750.8 L1776.8,757.4 L1779.9,764.0 L1783.0,770.5 L1785.7,777.3" stroke="#ff0000" stroke-width="5.0"/>
</g></g>
<g class="soft2" stroke="#262626" stroke-opacity="0.75" stroke-width="8.2" fill="none">
<line x1="248.5" y1="60.0" x2="248.5" y2="1596.8"/>
<line x1="248.5" y1="1596.8" x2="2200.4" y2="1596.8"/>
<line x1="248.5" y1="60.0" x2="265.2" y2="60.0"/>
<line x1="248.5" y1="281.0" x2="265.2" y2="281.0"/>
<line x1="248.5" y1="498.4" x2="265.2" y2="498.4"/>
<line x1="248.5" y1="719.7" x2="265.2" y2="719.7"/>
<line x1="248.5" y1="937.0" x2="265.2" y2="937.0"/>
<line x1="248.5" y1="1158.5" x2="265.2" y2="1158.5"/>
<line x1="248.5" y1="1375.8" x2="265.2" y2="1375.8"/>
<line x1="641.5" y1="1596.8" x2="641.5" y2="1580.5"/>
<line x1="1030.2" y1="1596.8" x2="1030.2" y2="1580.5"/>
<line x1="1419.0" y1="1596.8" x2="1419.0" y2="1580.5"/>
<line x1="1811.9" y1="1596.8" x2="1811.9" y2="1580.5"/>
<line x1="2200.4" y1="1596.8" x2="2200.4" y2="1580.5"/>
</g>
<g class="tk soft">
<text x="146.8 187.3" y="84.7">35</text>
<text x="146.8 187.3" y="301.9">30</text>
<text x="146.8 187.3" y="523.3">25</text>
<text x="146.8 187.3" y="740.5">20</text>
<text x="147.8 187.3" y="962.0">15</text><rect x="151.3" y="955.4" width="15.5" height="8.4" fill="#fff"/><rect x="171.6" y="955.4" width="14.9" height="8.4" fill="#fff"/>
<text x="147.8 187.3" y="1179.1">10</text><rect x="151.3" y="1172.5" width="15.5" height="8.4" fill="#fff"/><rect x="171.6" y="1172.5" width="14.9" height="8.4" fill="#fff"/>
<text x="186.7" y="1400.7">5</text>
<text x="186.7" y="1617.9">0</text>
<text x="232.8" y="1684.9">0</text>
<text x="590.6 631.7 652.5" y="1684.9">0.1</text><rect x="656.0" y="1678.3" width="15.5" height="8.4" fill="#fff"/><rect x="676.3" y="1678.3" width="14.9" height="8.4" fill="#fff"/>
<text x="978.3 1019.4 1039.2" y="1684.9">0.2</text>
<text x="1371.6 1412.7 1432.5" y="1684.9">0.3</text>
<text x="1760.0 1801.1 1820.9" y="1684.9">0.4</text>
<text x="2149.0 2190.1 2209.9" y="1684.9">0.5</text>
</g>
<text class="lb soft" x="883.5 937.2 961.4 1007.4 1048.2 1065.9 1107.2 1127.0 1153.7 1200.7 1221.0 1265.5 1288.1 1311.1 1330.7 1384.1 1408.6 1431.5 1479.0 1495.5 1545.3" y="1784.6">X-axis (e.g., Strain)</text>
<text class="lb soft" transform="translate(102.4,0) rotate(-90)" x="-1173.0 -1125.9 -1101.8 -1055.4 -1014.8 -997.0 -955.7 -935.9 -907.7 -863.6 -843.1 -798.0 -776.2 -753.2 -732.4 -679.7 -661.9 -629.8 -585.4 -544.1 -501.9" y="0">Y-axis (e.g., Stress)</text>
<rect x="1598.6" y="1141.7" width="547.0999999999999" height="396.79999999999995" fill="#fff"/>
<g class="soft2" stroke="#262626" stroke-opacity="0.75" stroke-width="8.2" fill="none">
<line x1="1598.6" y1="1141.7" x2="2145.7" y2="1141.7"/>
<line x1="1598.6" y1="1538.5" x2="2145.7" y2="1538.5"/>
<line x1="1598.6" y1="1141.7" x2="1598.6" y2="1538.5"/>
<line x1="2145.7" y1="1141.7" x2="2145.7" y2="1538.5"/>
</g>
<g class="soft">
<line x1="1619.2" y1="1187.7" x2="1836.9" y2="1187.7" stroke="#ff4040" stroke-width="8.4"/>
<text class="lg" transform="translate(1851.3,1208.6) scale(0.932,1)">Sample 1</text>
<rect x="2098.8" y="1202.1" width="14.5" height="8.3" fill="#fff"/><rect x="2117.6" y="1202.1" width="14.0" height="8.3" fill="#fff"/>
<line x1="1619.2" y1="1262.7" x2="1836.9" y2="1262.7" stroke="#ff4040" stroke-width="8.4"/>
<text class="lg" transform="translate(1851.3,1283.6) scale(0.932,1)">Sample 2</text>
<line x1="1619.2" y1="1337.9" x2="1836.9" y2="1337.9" stroke="#ffc040" stroke-width="8.4"/>
<text class="lg" transform="translate(1851.3,1358.8) scale(0.932,1)">Sample 3</text>
<line x1="1619.2" y1="1412.8" x2="1836.9" y2="1412.8" stroke="#b062b0" stroke-width="8.4"/>
<text class="lg" transform="translate(1851.3,1433.7) scale(0.932,1)">Sample 4</text>
<line x1="1619.2" y1="1492.1" x2="1836.9" y2="1492.1" stroke="#ff4040" stroke-width="8.4"/>
<text class="lg" transform="translate(1851.3,1509.0) scale(0.932,1)">Sample 5</text>
</g>
</svg></body></html>
